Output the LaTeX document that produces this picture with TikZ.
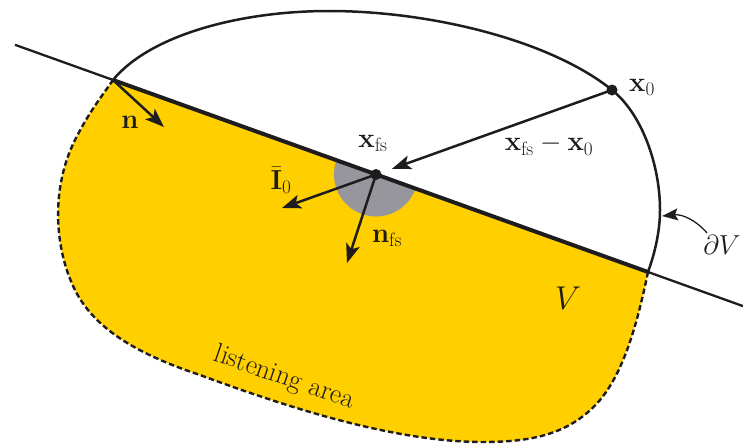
\RequirePackage{fix-cm}
\documentclass[tikz,border=0pt]{standalone}
\usetikzlibrary{arrows.meta}
\definecolor{lyellow}{RGB}{255,207,0}
\definecolor{fsgray}{RGB}{150,150,156}
\definecolor{ink}{RGB}{30,28,30}
\begin{document}
\begin{tikzpicture}[x=1pt,y=-1pt,
  font=\fontsize{27.5}{32}\selectfont,
  vec/.style={ink,line width=2.5pt,-{Stealth[length=19pt,width=14pt,inset=4.5pt]}},
  lbl/.style={inner sep=0pt,text=ink},
  dot/.style={fill=ink}]
\useasboundingbox (0,0) rectangle (743,444);
\coordinate (A) at (113,80);
\coordinate (B) at (648,272);
\coordinate (xfs) at (376,174.5);
\coordinate (x0) at (612,90);
\coordinate (L1) at (15,44.8);
\coordinate (L2) at (743,306.1);
% listening area fill
\fill[lyellow] (A) -- (B) .. controls (638,320) and (625,370) .. (600,400)
  .. controls (570,435) and (530,442) .. (483,442)
  .. controls (400,442) and (300,412) .. (200,375)
  .. controls (140,355) and (95,330) .. (75,290)
  .. controls (55,250) and (50,190) .. (75,140)
  .. controls (90,110) and (105,92) .. (A) -- cycle;
% grey half disk
\begin{scope}
\clip (A) -- (B) -- (743,444) -- (0,444) -- (0,80) -- cycle;
\fill[fsgray] (xfs) circle[radius=42];
\end{scope}
% dashed boundary
\draw[ink,line width=2.4pt,dash pattern=on 5.5pt off 3pt] (B) .. controls (638,320) and (625,370) .. (600,400)
  .. controls (570,435) and (530,442) .. (483,442)
  .. controls (400,442) and (300,412) .. (200,375)
  .. controls (140,355) and (95,330) .. (75,290)
  .. controls (55,250) and (50,190) .. (75,140)
  .. controls (90,110) and (105,92) .. (A);
% upper boundary
\draw[ink,line width=2.5pt] (A) .. controls (150,35) and (240,11) .. (329,11)
  .. controls (430,11) and (550,40) .. (x0)
  .. controls (642,114) and (660,165) .. (660,210)
  .. controls (660,235) and (653,258) .. (B);
% straight line
\draw[ink,line width=2.3pt] (L1) -- (L2);
\draw[ink,line width=4pt] (A) -- (B);
% arrows
\draw[vec] (A) -- (164,127);
\draw[vec,shorten >=17pt] (x0) -- (xfs);
\draw[vec] (xfs) -- (282,208);
\draw[vec] (xfs) -- (347,263);
\fill[dot] (xfs) circle[radius=5.5];
\fill[dot] (x0) circle[radius=5.5];
% labels
\node[lbl] (ln) at (130,122) {$\mathbf{n}$};
\node[lbl] (lxfs) at (373,143) {$\mathbf{x}_{\mathrm{fs}}$};
\node[lbl] (ldiff) at (549,145) {$\mathbf{x}_{\mathrm{fs}}-\mathbf{x}_0$};
\node[lbl] (lx0) at (642,87) {$\mathbf{x}_0$};
\node[lbl] (lI) at (281,180) {$\bar{\mathbf{I}}_0$};
\node[lbl] (lnfs) at (387,238) {$\mathbf{n}_{\mathrm{fs}}$};
\node[lbl] (lV) at (568,298) {\fontsize{33}{38}\selectfont$V$};
\node[lbl] (ldV) at (722,245) {$\partial V$};
\node[lbl,rotate=-19] (larea) at (284,378) {listening area};
\coordinate (dVtip) at (662,216);
\draw[ink,line width=1.3pt,-{Stealth[length=16pt,width=12pt,inset=3pt]}] (707,233) .. controls (696,220) and (682,214) .. (dVtip);
\end{tikzpicture}
\end{document}
